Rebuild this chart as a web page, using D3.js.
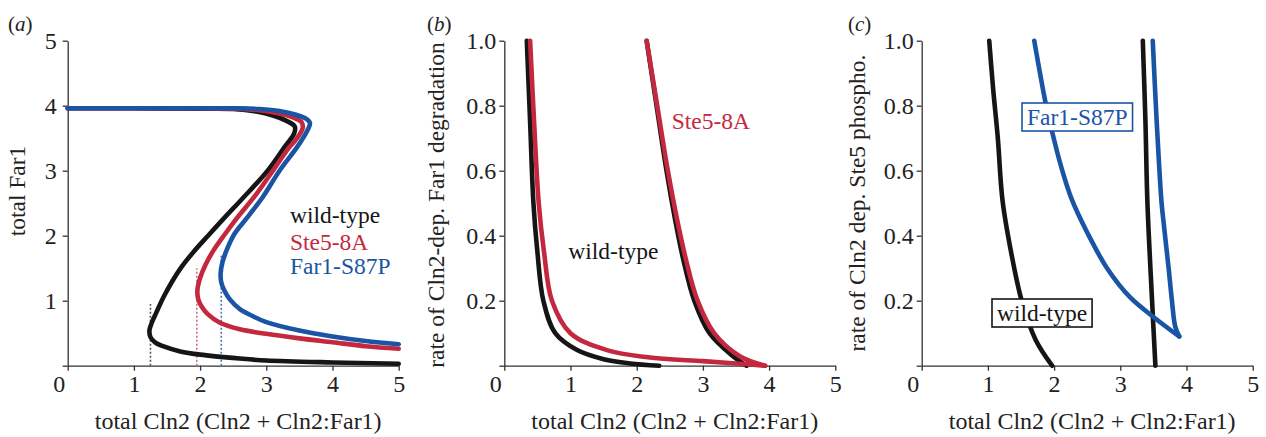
<!DOCTYPE html>
<html lang="en">
  <head>
    <meta charset="UTF-8">
    <title>Cln2 / Far1 bistability</title>
    <style>
      body { margin: 0; background: #fff; }
      svg text { font-family: "Liberation Serif", "Times New Roman", serif; fill: #222; }
      .axis path, .axis line { stroke: #333; stroke-width: 1.3px; }
      .axis text { font-size: 24px; }
      .curve { fill: none; stroke-width: 4.6px; stroke-linecap: round; stroke-linejoin: round; }
      .guide { fill: none; stroke-width: 1.6px; stroke-dasharray: 2, 2; }
    </style>
  </head>
  <body>
    <script src="https://cdn.jsdelivr.net/npm/d3@7"></script>
    <script>
      // colours of the three strains
      const BLACK = "#151515", RED = "#c4283e", BLUE = "#1a54a4";

      // ---- panel (a): total Far1 vs total Cln2 (S-shaped steady states)
      const wildA = [[0,3.96],[1,3.96],[2,3.955],[2.5,3.95],[2.85,3.91],[3.1,3.85],[3.3,3.77],[3.43,3.68],[3.42,3.57],
        [3.28,3.37],[3.02,3.0],[2.62,2.55],[2.38,2.29],[2.12,2.0],[1.9,1.75],[1.72,1.52],[1.58,1.3],[1.45,1.06],
        [1.34,0.82],[1.27,0.66],[1.235,0.55],[1.25,0.44],[1.32,0.36],[1.44,0.3],[1.7,0.22],[2.0,0.17],[2.6,0.11],
        [3.0,0.08],[4.0,0.05],[5.0,0.03]];
      const ste5A = [[0,3.96],[1,3.96],[2,3.96],[2.5,3.955],[2.9,3.93],[3.2,3.88],[3.4,3.82],[3.53,3.75],[3.55,3.66],
        [3.45,3.48],[3.34,3.35],[3.1,3.0],[2.82,2.6],[2.57,2.29],[2.38,2.03],[2.2,1.77],[2.08,1.55],[2.0,1.35],
        [1.96,1.17],[1.97,1.03],[2.03,0.9],[2.12,0.79],[2.3,0.66],[2.6,0.56],[3.0,0.49],[3.5,0.42],[4.0,0.36],
        [4.5,0.3],[5.0,0.26]];
      const far1A = [[0,3.96],[1,3.96],[2,3.96],[2.5,3.96],[2.9,3.95],[3.2,3.92],[3.45,3.86],[3.6,3.8],[3.66,3.73],
        [3.62,3.62],[3.47,3.37],[3.2,3.0],[2.95,2.6],[2.72,2.29],[2.52,2.03],[2.41,1.8],[2.34,1.6],[2.31,1.42],
        [2.32,1.28],[2.37,1.15],[2.45,1.02],[2.6,0.87],[2.8,0.76],[3.0,0.67],[3.5,0.54],[4.0,0.45],[4.5,0.38],[5.0,0.33]];
      // saddle-node positions marked with dotted lines: [x, top]
      const guidesA = [[1.25,0.95,"#555"],[1.95,1.5,"#d0707f"],[2.32,1.72,"#4a74b5"]];

      // ---- panel (b): rate of Cln2-dep. Far1 degradation
      const wildBLeft = [[0.34,1.0],[0.39,0.75],[0.44,0.5],[0.5,0.35],[0.59,0.2],[0.77,0.1],[1.1,0.048],[1.5,0.02],[1.9,0.007],[2.34,0.0]];
      const wildBRight = [[2.15,1.0],[2.3,0.8],[2.45,0.6],[2.58,0.45],[2.7,0.33],[2.87,0.2],[3.1,0.1],[3.45,0.03],[3.66,0.0]];
      const ste5BLeft = [[0.39,1.0],[0.45,0.75],[0.52,0.5],[0.6,0.35],[0.72,0.2],[1.0,0.1],[1.55,0.048],[2.17,0.026],[3.0,0.014],[3.5,0.007],[3.94,0.0]];
      const ste5BRight = [[2.15,1.0],[2.31,0.8],[2.47,0.6],[2.61,0.45],[2.74,0.33],[2.92,0.2],[3.17,0.1],[3.55,0.03],[3.94,0.0]];

      // ---- panel (c): rate of Cln2 dep. Ste5 phospho.
      const wildCLeft = [[1.02,1.0],[1.08,0.85],[1.15,0.7],[1.22,0.51],[1.35,0.35],[1.51,0.2],[1.72,0.08],[1.97,0.0]];
      const wildCRight = [[3.34,1.0],[3.38,0.75],[3.41,0.5],[3.48,0.2],[3.53,0.0]];
      const far1CLeft = [[1.7,1.0],[1.87,0.81],[1.97,0.72],[2.11,0.61],[2.27,0.51],[2.5,0.41],[2.8,0.3],[3.15,0.21],[3.5,0.15],[3.89,0.09]];
      const far1CRight = [[3.49,1.0],[3.55,0.75],[3.62,0.51],[3.65,0.448],[3.73,0.3],[3.78,0.2],[3.83,0.12],[3.89,0.09]];

      const xTicks = [0, 1, 2, 3, 4, 5];
      const yTicksA = [0, 1, 2, 3, 4, 5];
      const yTicksBC = [0, 0.2, 0.4, 0.6, 0.8, 1.0];
      const xTitle = "total Cln2 (Cln2 + Cln2:Far1)";

      const W = 1266, H = 437;
      const plotTop = 40.7, plotBottom = 365.7, plotW = 331;

      const svg = d3.select("body").append("svg")
        .attr("width", W).attr("height", H);

      function panel(opt) {
        const x = d3.scaleLinear().domain([0, 5]).range([opt.left, opt.left + plotW]);
        const y = d3.scaleLinear().domain(opt.yDomain).range([plotBottom, plotTop]);
        const g = svg.append("g");

        const xa = g.append("g").attr("class", "axis")
          .attr("transform", `translate(0,${plotBottom})`)
          .call(d3.axisBottom(x).tickValues(xTicks).tickSize(5).tickSizeOuter(0).tickPadding(4)
            .tickFormat(d3.format("d")));
        xa.selectAll(".tick text").attr("dx", d => d === 0 ? -9 : 0);

        g.append("g").attr("class", "axis")
          .attr("transform", `translate(${opt.left},0)`)
          .call(d3.axisLeft(y).tickValues(opt.yTicks).tickSize(5).tickSizeOuter(0).tickPadding(opt.pad)
            .tickFormat(d => d === 0 ? "" : opt.yFormat(d)));
        g.selectAll(".axis").attr("font-family", null).attr("font-size", null);

        // axis titles
        g.append("text")
          .attr("x", opt.left + plotW / 2 + 5).attr("y", 429)
          .attr("text-anchor", "middle").style("font-size", "24px")
          .text(xTitle);
        g.append("text")
          .attr("transform", `translate(${opt.titleX},${opt.titleY}) rotate(-90)`)
          .attr("text-anchor", "middle").style("font-size", "23.5px")
          .text(opt.yTitle);

        // panel letter
        const pl = g.append("text").attr("x", opt.letterX).attr("y", 31).style("font-size", "21px");
        pl.append("tspan").text("(");
        pl.append("tspan").style("font-style", "italic").text(opt.letter);
        pl.append("tspan").text(")");

        const line = d3.line().x(d => x(d[0])).y(d => y(d[1])).curve(d3.curveCatmullRom.alpha(0.5));
        return { g, x, y, line };
      }

      // (a)
      const pa = panel({ left: 67.7, yDomain: [0, 5], yTicks: yTicksA, yFormat: d3.format("d"), pad: 6,
        yTitle: "total Far1", titleX: 25, titleY: 191, letter: "a", letterX: 8 });
      pa.g.selectAll("line.guide").data(guidesA).enter().append("line")
        .attr("class", "guide")
        .attr("x1", d => pa.x(d[0])).attr("x2", d => pa.x(d[0]))
        .attr("y1", pa.y(0)).attr("y2", d => pa.y(d[1]))
        .style("stroke", d => d[2]);
      [[wildA, BLACK], [ste5A, RED], [far1A, BLUE]].forEach(([data, c]) => {
        pa.g.append("path").attr("class", "curve").attr("d", pa.line(data)).style("stroke", c);
      });
      [["wild-type", BLACK, 223], ["Ste5-8A", RED, 250], ["Far1-S87P", BLUE, 274]].forEach(([t, c, yy]) => {
        pa.g.append("text").attr("x", 290).attr("y", yy).style("font-size", "23.5px").style("fill", c).text(t);
      });

      // (b)
      const pb = panel({ left: 504.3, yDomain: [0, 1], yTicks: yTicksBC, yFormat: d3.format(".1f"), pad: 3,
        yTitle: "rate of Cln2-dep. Far1 degradation", titleX: 444, titleY: 205, letter: "b", letterX: 427 });
      [[wildBLeft, BLACK], [wildBRight, BLACK], [ste5BLeft, RED], [ste5BRight, RED]].forEach(([data, c]) => {
        pb.g.append("path").attr("class", "curve").attr("d", pb.line(data)).style("stroke", c);
      });
      pb.g.append("text").attr("x", 671.7).attr("y", 128.5).style("font-size", "23.5px").style("fill", RED).text("Ste5-8A");
      pb.g.append("text").attr("x", 568.3).attr("y", 258.5).style("font-size", "23.5px").style("fill", BLACK).text("wild-type");

      // (c)
      const pc = panel({ left: 921.7, yDomain: [0, 1], yTicks: yTicksBC, yFormat: d3.format(".1f"), pad: 3,
        yTitle: "rate of Cln2 dep. Ste5 phospho.", titleX: 865, titleY: 203, letter: "c", letterX: 848 });
      [[wildCLeft, BLACK], [wildCRight, BLACK], [far1CLeft, BLUE], [far1CRight, BLUE]].forEach(([data, c]) => {
        pc.g.append("path").attr("class", "curve").attr("d", pc.line(data)).style("stroke", c);
      });
      // boxed labels
      function boxLabel(g, x0, y0, txt, c) {
        const t = g.append("text").attr("x", x0).attr("y", y0).style("font-size", "23.5px").style("fill", c).text(txt);
        const bb = t.node().getBBox();
        g.insert("rect", () => t.node())
          .attr("x", bb.x - 5).attr("y", bb.y - 1).attr("width", bb.width + 10).attr("height", bb.height + 2)
          .style("fill", "#fff").style("stroke", c).style("stroke-width", 1.6);
      }
      boxLabel(pc.g, 1027, 125, "Far1-S87P", BLUE);
      boxLabel(pc.g, 997, 321, "wild-type", BLACK);
    </script>
  </body>
</html>
